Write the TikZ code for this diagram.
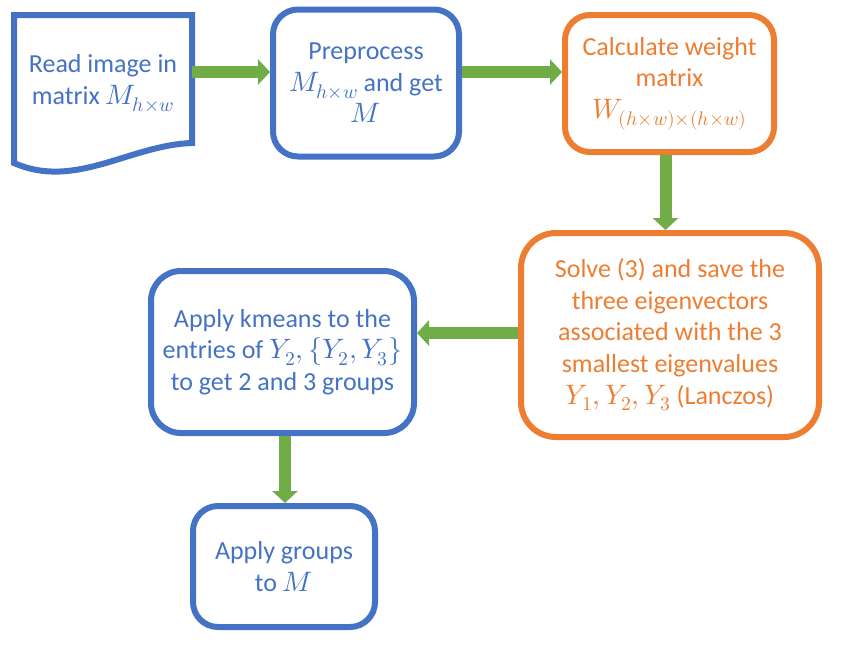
\documentclass[tikz,border=0pt]{standalone}
\usepackage{fontspec}
\usepackage{unicode-math}
\setmainfont{Carlito}
\setmathfont{Latin Modern Math}[Scale=1.08]
\usetikzlibrary{arrows.meta}
\definecolor{offblue}{HTML}{4472C4}
\definecolor{offorange}{HTML}{ED7D31}
\definecolor{offgreen}{HTML}{70AD47}
\begin{document}
\begin{tikzpicture}[x=1pt,y=-1pt,
  every node/.style={align=center,inner sep=0pt,font=\fontsize{26}{31.6}\selectfont},
  bluebox/.style={draw=offblue,text=offblue,line width=6pt,rounded corners=25pt},
  orangebox/.style={draw=offorange,text=offorange,line width=6pt,rounded corners=25pt},
  flow/.style={offgreen,line width=12pt,-{Triangle[width=25pt,length=12pt]}}]
  \useasboundingbox (0,0) rectangle (843,649);
  % document shape for the input
  \draw[offblue,line width=6pt,line join=miter] (14,163) -- (14,15) -- (192,15) -- (192,143)
        .. controls (130,145) and (75,190) .. cycle;
  \node[text=offblue] at (103,83) (read) {Read image in\\matrix $M_{h\times w}$};
  \coordinate (readR) at (192,72);
  \node[bluebox,minimum width=186pt,minimum height=147pt] at (366,83) (pre)
        {Preprocess\\$M_{h\times w}$ and get\\$M$};
  \node[orangebox,minimum width=209pt,minimum height=137pt] at (669.5,83.5) (calc)
        {Calculate weight\\matrix\\$W_{(h\times w)\times(h\times w)}$};
  \node[orangebox,rounded corners=35pt,minimum width=298pt,minimum height=204pt] at (670,335) (solve)
        {Solve (3) and save the\\three eigenvectors\\associated with the 3\\smallest eigenvalues\\$Y_1, Y_2, Y_3$ (Lanczos)};
  \node[bluebox,rounded corners=30pt,minimum width=263pt,minimum height=162pt] at (282.5,352) (km)
        {Apply kmeans to the\\entries of $Y_2, \{Y_2, Y_3\}$\\to get 2 and 3 groups};
  \node[bluebox,minimum width=182pt,minimum height=121pt] at (284,566.5) (grp)
        {Apply groups\\to $M$};
  % green block arrows
  \draw[flow] (readR) -- (readR -| pre.west);
  \draw[flow] (pre.east |- readR) -- (calc.west |- readR);
  \draw[flow] ([xshift=-4pt]calc.south) -- ([xshift=-4pt]calc.south |- solve.north);
  \draw[flow] ([yshift=2pt]solve.west) -- ([yshift=2pt]solve.west -| km.east);
  \draw[flow] ([xshift=2.5pt]km.south) -- ([xshift=2.5pt]km.south |- grp.north);
\end{tikzpicture}
\end{document}
